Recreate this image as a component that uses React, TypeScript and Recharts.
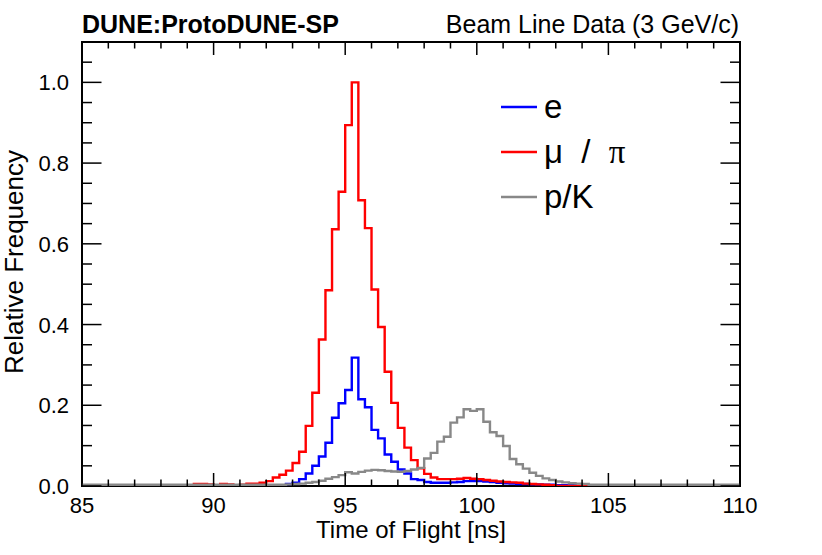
import React from 'react';
import { ComposedChart, Line, XAxis, YAxis, ReferenceArea } from 'recharts';

// Histogram binning (bin left edges, ns)
const BIN_START = 85;
const BIN_WIDTH = 0.25;
const X_MIN = 85;
const X_MAX = 110;
const Y_MAX = 1.1;

// Relative frequency per 0.25 ns bin, 85 -> 110 ns (100 bins)
const E_VALUES = [
  0, 0, 0, 0, 0, 0, 0, 0, 0, 0,
  0, 0, 0, 0, 0, 0, 0, 0, 0, 0,
  0, 0, 0, 0, 0, 0, 0, 0, 0, 0,
  0, 0.005, 0.008, 0.017, 0.031, 0.05, 0.073, 0.107, 0.169, 0.205,
  0.238, 0.318, 0.215, 0.195, 0.139, 0.118, 0.078, 0.06, 0.041, 0.031,
  0.017, 0.015, 0.01, 0.008, 0.008, 0.008, 0.009, 0.01, 0.012, 0.012,
  0.012, 0.011, 0.01, 0.008, 0.007, 0.006, 0.005, 0.005, 0.004, 0.004,
  0.003, 0.003, 0.002, 0.002, 0.002, 0, 0, 0, 0, 0,
  0, 0, 0, 0, 0, 0, 0, 0, 0, 0,
  0, 0, 0, 0, 0, 0, 0, 0, 0, 0,
];

const MU_VALUES = [
  0, 0, 0, 0, 0, 0, 0, 0, 0, 0,
  0, 0, 0, 0, 0, 0, 0, 0.005, 0.005, 0.004,
  0.002, 0.005, 0.004, 0.002, 0.003, 0.006, 0.006, 0.008, 0.012, 0.021,
  0.028, 0.038, 0.057, 0.085, 0.149, 0.231, 0.363, 0.485, 0.636, 0.729,
  0.894, 1.0, 0.708, 0.639, 0.487, 0.394, 0.283, 0.206, 0.144, 0.095,
  0.064, 0.044, 0.03, 0.021, 0.017, 0.017, 0.017, 0.018, 0.02, 0.018,
  0.017, 0.015, 0.013, 0.011, 0.01, 0.009, 0.008, 0.006, 0.005, 0.004,
  0.003, 0.002, 0, 0, 0, 0, 0, 0, 0, 0,
  0, 0, 0, 0, 0, 0, 0, 0, 0, 0,
  0, 0, 0, 0, 0, 0, 0, 0, 0, 0,
];

const PK_VALUES = [
  0.003, 0.003, 0.003, 0.003, 0.003, 0.003, 0.003, 0.003, 0.003, 0.003,
  0.003, 0.003, 0.003, 0.003, 0.003, 0.003, 0.003, 0.003, 0.003, 0.003,
  0.003, 0.003, 0.003, 0.003, 0.003, 0.003, 0.003, 0.003, 0.003, 0.003,
  0.003, 0.004, 0.005, 0.006, 0.008, 0.01, 0.013, 0.018, 0.022, 0.027,
  0.034, 0.031, 0.035, 0.038, 0.04, 0.039, 0.037, 0.036, 0.035, 0.037,
  0.041, 0.045, 0.068, 0.082, 0.11, 0.122, 0.157, 0.17, 0.19, 0.186,
  0.19, 0.159, 0.133, 0.124, 0.099, 0.067, 0.054, 0.043, 0.033, 0.025,
  0.019, 0.015, 0.011, 0.009, 0.007, 0.006, 0.005, 0.003, 0.003, 0.003,
  0.003, 0.003, 0.003, 0.003, 0.003, 0.003, 0.003, 0.003, 0.003, 0.003,
  0.003, 0.003, 0.003, 0.003, 0.003, 0.003, 0.003, 0.003, 0.003, 0.003,
];

const X_TICKS = [
  85, 86, 87, 88, 89, 90, 91, 92, 93, 94, 95, 96, 97, 98, 99, 100,
  101, 102, 103, 104, 105, 106, 107, 108, 109, 110,
];
const X_MAJOR = [85, 90, 95, 100, 105, 110];
const Y_TICKS = [
  0, 0.05, 0.1, 0.15, 0.2, 0.25, 0.3, 0.35, 0.4, 0.45, 0.5, 0.55,
  0.6, 0.65, 0.7, 0.75, 0.8, 0.85, 0.9, 0.95, 1.0, 1.05, 1.1,
];
const Y_MAJOR = [0, 0.2, 0.4, 0.6, 0.8, 1.0];
const Y_LABELS = ['0.0', '0.2', '0.4', '0.6', '0.8', '1.0'];

const SERIES = [
  { key: 'e', name: 'e', color: '#0000ff' },
  { key: 'mu', name: 'μ / π', color: '#ff0000' },
  { key: 'pk', name: 'p/K', color: '#888888' },
];

const data = E_VALUES.map((_, i) => ({
  x: BIN_START + BIN_WIDTH * i,
  e: E_VALUES[i],
  mu: MU_VALUES[i],
  pk: PK_VALUES[i],
}));
data.push({
  x: X_MAX,
  e: E_VALUES[E_VALUES.length - 1],
  mu: MU_VALUES[MU_VALUES.length - 1],
  pk: PK_VALUES[PK_VALUES.length - 1],
});

// Layout
const W = 822;
const H = 555;
const PLOT_LEFT = 82;
const PLOT_TOP = 42;
const PLOT_RIGHT = 740;
const PLOT_BOTTOM = 486;
const FONT = '"Liberation Sans", Arial, Helvetica, sans-serif';

const X_MAJOR_LEN = 13;
const X_MINOR_LEN = 6.5;
const Y_MAJOR_LEN = 19.5;
const Y_MINOR_LEN = 10;

const isIn = (arr: number[], v: number) => arr.some((a) => Math.abs(a - v) < 1e-6);

const XTick = (props: any) => {
  const { x, y, payload } = props;
  const v = payload.value;
  const major = isIn(X_MAJOR, v);
  const len = major ? X_MAJOR_LEN : X_MINOR_LEN;
  return (
    <g>
      <line x1={x} y1={y} x2={x} y2={y - len} stroke="#000" strokeWidth={1.5} />
      <line x1={x} y1={PLOT_TOP} x2={x} y2={PLOT_TOP + len} stroke="#000" strokeWidth={1.5} />
      {major && (
        <text x={x} y={y + 27} textAnchor="middle" fontFamily={FONT} fontSize={22} fill="#000">
          {String(v)}
        </text>
      )}
    </g>
  );
};

const YTick = (props: any) => {
  const { x, y, payload } = props;
  const v = payload.value;
  const idx = Y_MAJOR.findIndex((a) => Math.abs(a - v) < 1e-6);
  const major = idx >= 0;
  const len = major ? Y_MAJOR_LEN : Y_MINOR_LEN;
  return (
    <g>
      <line x1={x} y1={y} x2={x + len} y2={y} stroke="#000" strokeWidth={1.5} />
      <line x1={PLOT_RIGHT} y1={y} x2={PLOT_RIGHT - len} y2={y} stroke="#000" strokeWidth={1.5} />
      {major && (
        <text x={x - 13} y={y + 8} textAnchor="end" fontFamily={FONT} fontSize={22} fill="#000">
          {Y_LABELS[idx]}
        </text>
      )}
    </g>
  );
};

export default function App() {
  return (
    <div style={{ position: 'relative', width: W, height: H, background: '#fff' }}>
      <style>{'body{margin:0;background:#fff}'}</style>
      <ComposedChart
        width={W}
        height={H}
        data={data}
        margin={{ top: PLOT_TOP, right: W - PLOT_RIGHT, bottom: 0, left: 0 }}
      >
        <XAxis
          dataKey="x"
          type="number"
          domain={[X_MIN, X_MAX]}
          ticks={X_TICKS}
          interval={0}
          allowDataOverflow
          tickSize={0}
          tickMargin={0}
          axisLine={false}
          tickLine={false}
          tick={<XTick />}
          height={H - PLOT_BOTTOM}
        />
        <YAxis
          type="number"
          domain={[0, Y_MAX]}
          ticks={Y_TICKS}
          interval={0}
          allowDataOverflow
          tickSize={0}
          tickMargin={0}
          axisLine={false}
          tickLine={false}
          tick={<YTick />}
          width={PLOT_LEFT}
        />
        {SERIES.map((s) => (
          <Line
            key={s.key}
            dataKey={s.key}
            name={s.name}
            type="stepAfter"
            stroke={s.color}
            strokeWidth={2.4}
            dot={false}
            activeDot={false}
            isAnimationActive={false}
          />
        ))}
        <ReferenceArea
          x1={X_MIN}
          x2={X_MAX}
          y1={0}
          y2={Y_MAX}
          fill="none"
          fillOpacity={0}
          stroke="#000"
          strokeWidth={2}
          strokeOpacity={1}
          ifOverflow="visible"
        />
      </ComposedChart>
      <svg
        width={W}
        height={H}
        style={{ position: 'absolute', left: 0, top: 0, pointerEvents: 'none' }}
      >
        <text x={PLOT_LEFT} y={33} fontFamily={FONT} fontWeight="bold" fontSize={25} fill="#000">
          DUNE:ProtoDUNE-SP
        </text>
        <text x={739} y={33} textAnchor="end" fontFamily={FONT} fontSize={25} fill="#000">
          Beam Line Data (3 GeV/c)
        </text>
        <text
          x={(PLOT_LEFT + PLOT_RIGHT) / 2}
          y={538}
          textAnchor="middle"
          fontFamily={FONT}
          fontSize={24}
          fill="#000"
        >
          Time of Flight [ns]
        </text>
        <text
          x={23}
          y={262}
          transform="rotate(-90 23 262)"
          textAnchor="middle"
          fontFamily={FONT}
          fontSize={26}
          fill="#000"
        >
          Relative Frequency
        </text>
        {SERIES.map((s, i) => {
          const base = 118 + i * 45;
          return (
            <g key={s.key}>
              <line x1={501} y1={base - 11} x2={537} y2={base - 11} stroke={s.color} strokeWidth={2.4} />
              <text
                x={544}
                y={base}
                fontFamily={FONT}
                fontSize={33}
                fill="#000"
                style={{ whiteSpace: 'pre' }}
              >
                {s.key === 'mu' ? (
                  <>
                    {'μ  /  '}
                    <tspan fontFamily='"Liberation Serif", serif'>π</tspan>
                  </>
                ) : (
                  s.name
                )}
              </text>
            </g>
          );
        })}
      </svg>
    </div>
  );
}
